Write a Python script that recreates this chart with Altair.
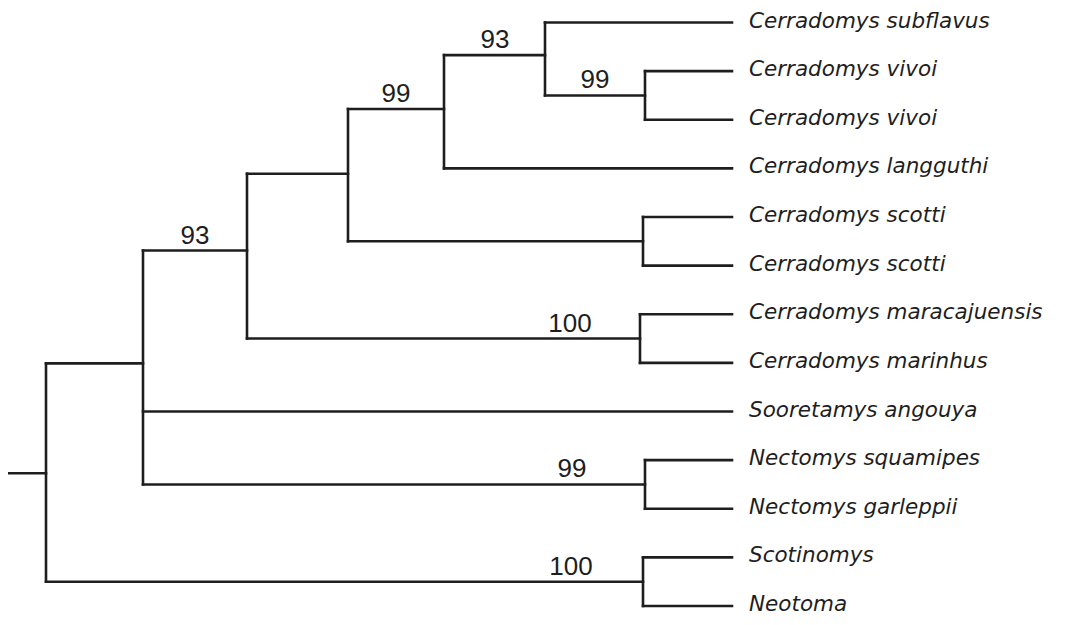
import altair as alt
import pandas as pd

# ---- data: leaves (top to bottom) ----
leaf_names = [
    "Cerradomys subflavus", "Cerradomys vivoi", "Cerradomys vivoi",
    "Cerradomys langguthi", "Cerradomys scotti", "Cerradomys scotti",
    "Cerradomys maracajuensis", "Cerradomys marinhus", "Sooretamys angouya",
    "Nectomys squamipes", "Nectomys garleppii", "Scotinomys", "Neotoma",
]
leaf_rank = list(range(len(leaf_names)))
tip_depth = 732  # all tips aligned

# ---- internal nodes: name, depth, vertical position (leaf-rank units), children ----
node_names = ["n_vivoi", "n_sub", "n_lang", "n_scotti", "n_cerr", "n_mara",
              "n_A", "n_nect", "n_in", "n_out", "root"]
node_depth = [645, 545, 444, 643, 348, 640, 247, 645, 143, 643, 46]
node_rank = [1.5, 0.67, 1.78, 4.5, 3.11, 6.5, 4.69, 9.5, 7.01, 11.5, 9.27]
node_children = [
    ["L1", "L2"], ["L0", "n_vivoi"], ["n_sub", "L3"], ["L4", "L5"],
    ["n_lang", "n_scotti"], ["L6", "L7"], ["n_cerr", "n_mara"],
    ["L9", "L10"], ["n_A", "L8", "n_nect"], ["L11", "L12"], ["n_in", "n_out"],
]
root_stub_start = 7

# ---- bootstrap support values ----
support_node = ["n_A", "n_lang", "n_sub", "n_vivoi", "n_mara", "n_nect", "n_out"]
support_value = ["93", "99", "93", "99", "100", "99", "100"]
support_pos = [195, 396, 495, 595, 570, 572, 571]

# ---- build segments ----
pos = {}
for i, r in enumerate(leaf_rank):
    pos[f"L{i}"] = (tip_depth, r)
for n, d, r in zip(node_names, node_depth, node_rank):
    pos[n] = (d, r)

segs = []
for n, ch in zip(node_names, node_children):
    px, _ = pos[n]
    ys_ = [pos[c][1] for c in ch]
    segs.append(dict(x=px, x2=px, y=min(ys_), y2=max(ys_)))
    for c in ch:
        cx, cy = pos[c]
        segs.append(dict(x=px, x2=cx, y=cy, y2=cy))
rx, ry = pos["root"]
segs.append(dict(x=root_stub_start, x2=rx, y=ry, y2=ry))
seg_df = pd.DataFrame(segs)

leaf_df = pd.DataFrame({"name": leaf_names, "x": [tip_depth] * len(leaf_names), "y": leaf_rank})
sup_df = pd.DataFrame({
    "label": support_value,
    "x": support_pos,
    "y": [pos[n][1] for n in support_node],
})

W, H = 1066, 609
xs = alt.Scale(domain=[8, 1074], zero=False, nice=False)
ys = alt.Scale(domain=[-0.2982, 12.2262], zero=False, nice=False, reverse=True)
ink = "#1e1e1e"

branches = alt.Chart(seg_df).mark_rule(color=ink, strokeWidth=2.6, strokeCap="square").encode(
    x=alt.X("x:Q", scale=xs, axis=None),
    x2="x2:Q",
    y=alt.Y("y:Q", scale=ys, axis=None),
    y2="y2:Q",
)

labels = alt.Chart(leaf_df).mark_text(
    align="left", baseline="middle", dx=17, dy=-1, font="DejaVu Sans",
    fontStyle="italic", fontSize=21.5, color=ink,
).encode(x=alt.X("x:Q", scale=xs), y=alt.Y("y:Q", scale=ys), text="name:N")

support = alt.Chart(sup_df).mark_text(
    align="center", baseline="alphabetic", dy=-7, font="Liberation Sans",
    fontSize=26, color=ink,
).encode(x=alt.X("x:Q", scale=xs), y=alt.Y("y:Q", scale=ys), text="label:N")

chart = alt.layer(branches, labels, support).properties(
    width=W, height=H, autosize=alt.AutoSizeParams(type="none"), padding=0,
    background="white",
).configure_view(strokeWidth=0)

chart.save("out.html", embed_options={"renderer": "svg", "actions": False})
